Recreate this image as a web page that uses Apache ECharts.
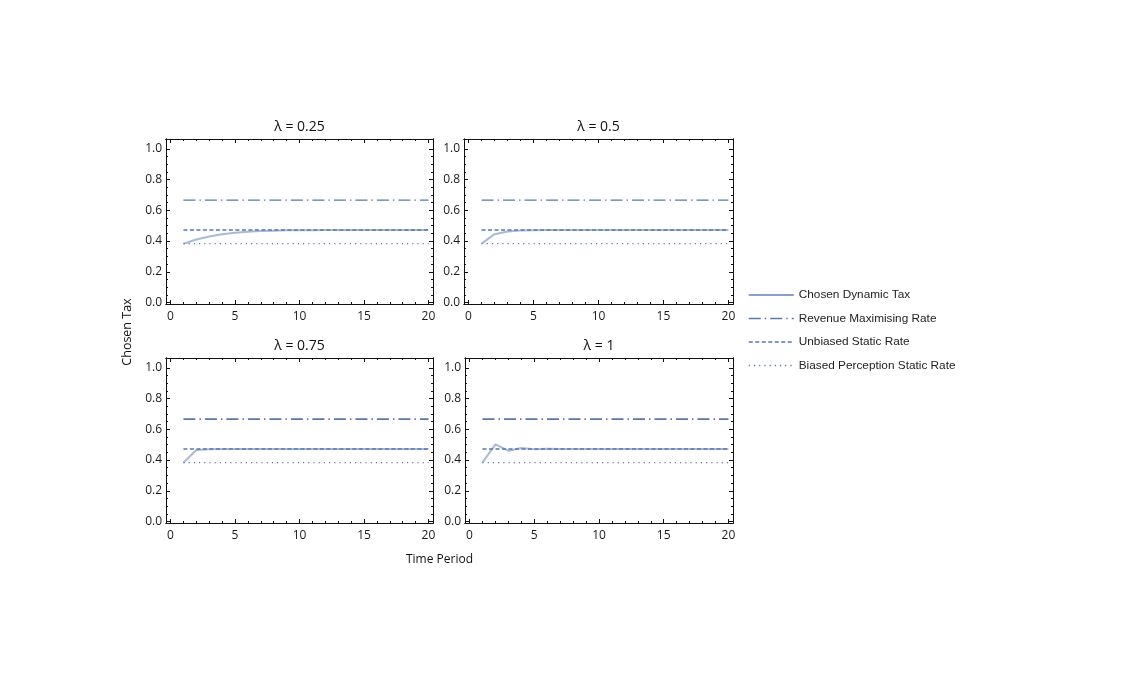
<!DOCTYPE html>
<html>
<head>
<meta charset="utf-8">
<script src="https://cdn.jsdelivr.net/npm/echarts@6/dist/echarts.min.js"></script>
<style>
  html, body { margin: 0; padding: 0; background: #fff; }
  #chart { width: 1146px; height: 679px; }
</style>
</head>
<body>
<div id="chart"></div>
<script>
// data
var periods = [1, 2, 3, 4, 5, 6, 7, 8, 9, 10, 11, 12, 13, 14, 15, 16, 17, 18, 19, 20];
var lambdas = ['0.25', '0.5', '0.75', '1'];
var dynamic025 = [0.383, 0.41, 0.43, 0.444, 0.454, 0.461, 0.465, 0.468, 0.47, 0.471, 0.471, 0.472, 0.472, 0.472, 0.472, 0.472, 0.472, 0.472, 0.472, 0.472];
var dynamic05 = [0.383, 0.445, 0.463, 0.469, 0.471, 0.472, 0.472, 0.472, 0.472, 0.472, 0.472, 0.472, 0.472, 0.472, 0.472, 0.472, 0.472, 0.472, 0.472, 0.472];
var dynamic075 = [0.383, 0.466, 0.471, 0.472, 0.472, 0.472, 0.472, 0.472, 0.472, 0.472, 0.472, 0.472, 0.472, 0.472, 0.472, 0.472, 0.472, 0.472, 0.472, 0.472];
var dynamic1 = [0.383, 0.502, 0.461, 0.479, 0.47, 0.473, 0.472, 0.472, 0.472, 0.472, 0.472, 0.472, 0.472, 0.472, 0.472, 0.472, 0.472, 0.472, 0.472, 0.472];
var revenueRate = 0.667;
var unbiasedRate = 0.472;
var biasedRate = 0.383;
var xMajor = [0, 5, 10, 15, 20];
var xMinor = [1, 2, 3, 4, 6, 7, 8, 9, 11, 12, 13, 14, 16, 17, 18, 19];
var yMajor = [0, 0.2, 0.4, 0.6, 0.8, 1.0];
var yMinor = [0.05, 0.1, 0.15, 0.25, 0.3, 0.35, 0.45, 0.5, 0.55, 0.65, 0.7, 0.75, 0.85, 0.9, 0.95];

var dynamics = [dynamic025, dynamic05, dynamic075, dynamic1];
var names = ['Chosen Dynamic Tax', 'Revenue Maximising Rate', 'Unbiased Static Rate', 'Biased Perception Static Rate'];

var chart = echarts.init(document.getElementById('chart'));
var font = '"Open Sans", "Noto Sans", sans-serif';
var lineColor = '#5a78aa';

// panel frames (px)
var grids = [
  { left: 166, top: 139, width: 267, height: 165 },
  { left: 464, top: 139, width: 269, height: 165 },
  { left: 166, top: 358, width: 267, height: 165 },
  { left: 465, top: 358, width: 268, height: 165 }
];

var xAxes = [], yAxes = [], series = [], graphics = [];

function xAxis(gi, pos, vals, len, labels) {
  xAxes.push({
    type: 'value', gridIndex: gi, position: pos, min: -0.35, max: 20.35,
    axisLine: { show: true, onZero: false, lineStyle: { color: '#111', width: 1 } },
    axisTick: { show: true, inside: true, length: len, customValues: vals, lineStyle: { color: '#111' } },
    axisLabel: labels ? { show: true, customValues: vals, margin: 7, color: '#1a1a1a', fontSize: 12, fontFamily: font } : { show: false },
    splitLine: { show: false }
  });
  return xAxes.length - 1;
}
function yAxis(gi, pos, vals, len, labels) {
  yAxes.push({
    type: 'value', gridIndex: gi, position: pos, min: -0.01, max: 1.065,
    axisLine: { show: true, onZero: false, lineStyle: { color: '#111', width: 1 } },
    axisTick: { show: true, inside: true, length: len, customValues: vals, lineStyle: { color: '#111' } },
    axisLabel: labels ? {
      show: true, customValues: vals, margin: 4, color: '#1a1a1a', fontSize: 12, fontFamily: font,
      formatter: function (v) { return v.toFixed(1); }
    } : { show: false },
    splitLine: { show: false }
  });
  return yAxes.length - 1;
}

function flat(rate) {
  return periods.map(function (t) { return [t, rate]; });
}

grids.forEach(function (g, gi) {
  var xi = xAxis(gi, 'bottom', xMajor, 4, true);
  xAxis(gi, 'bottom', xMinor, 2, false);
  xAxis(gi, 'top', xMajor, 4, false);
  xAxis(gi, 'top', xMinor, 2, false);
  var yi = yAxis(gi, 'left', yMajor, 4, true);
  yAxis(gi, 'left', yMinor, 2, false);
  yAxis(gi, 'right', yMajor, 4, false);
  yAxis(gi, 'right', yMinor, 2, false);

  var refWidth = gi < 2 ? 1.2 : 1.7;
  series.push({
    name: names[0], type: 'line', xAxisIndex: xi, yAxisIndex: yi, symbol: 'none',
    data: periods.map(function (t, i) { return [t, dynamics[gi][i]]; }),
    lineStyle: { color: '#5e81b5', width: 2, opacity: 0.55 }, itemStyle: { color: '#5e81b5' }
  });
  series.push({
    name: names[1], type: 'line', xAxisIndex: xi, yAxisIndex: yi, symbol: 'none',
    data: flat(revenueRate),
    lineStyle: { color: lineColor, width: refWidth, type: [12, 4, 1.5, 4] }, itemStyle: { color: lineColor }
  });
  series.push({
    name: names[2], type: 'line', xAxisIndex: xi, yAxisIndex: yi, symbol: 'none',
    data: flat(unbiasedRate),
    lineStyle: { color: lineColor, width: 1.6, type: [4, 2.5] }, itemStyle: { color: lineColor }
  });
  series.push({
    name: names[3], type: 'line', xAxisIndex: xi, yAxisIndex: yi, symbol: 'none',
    data: flat(biasedRate),
    lineStyle: { color: lineColor, width: 1.2, type: [1.2, 4] }, itemStyle: { color: lineColor }
  });

  graphics.push({
    type: 'text', x: g.left + g.width / 2, y: g.top - 12,
    style: { text: '\u03bb = ' + lambdas[gi], textAlign: 'center', textVerticalAlign: 'middle', fill: '#111', font: '14px ' + font }
  });
});

graphics.push({
  type: 'text', x: 127, y: 332, rotation: Math.PI / 2,
  style: { text: 'Chosen Tax', textAlign: 'center', textVerticalAlign: 'middle', fill: '#111', font: '12.5px ' + font }
});
graphics.push({
  type: 'text', x: 439.5, y: 560,
  style: { text: 'Time Period', textAlign: 'center', textVerticalAlign: 'middle', fill: '#111', font: '12px ' + font }
});

var option = {
  animation: false,
  backgroundColor: '#fff',
  grid: grids.map(function (g) {
    return { left: g.left, top: g.top, width: g.width, height: g.height, containLabel: false };
  }),
  xAxis: xAxes,
  yAxis: yAxes,
  legend: {
    data: names, orient: 'vertical', left: 748, top: 289, padding: 0,
    itemWidth: 45, itemHeight: 12, itemGap: 11.5, selectedMode: false,
    itemStyle: { opacity: 0 },
    lineStyle: { opacity: 1, width: 1.5 },
    textStyle: { color: '#222', fontSize: 11.8, fontFamily: '"Liberation Sans", Arial, sans-serif' }
  },
  graphic: graphics,
  series: series
};
chart.setOption(option);
</script>
</body>
</html>
